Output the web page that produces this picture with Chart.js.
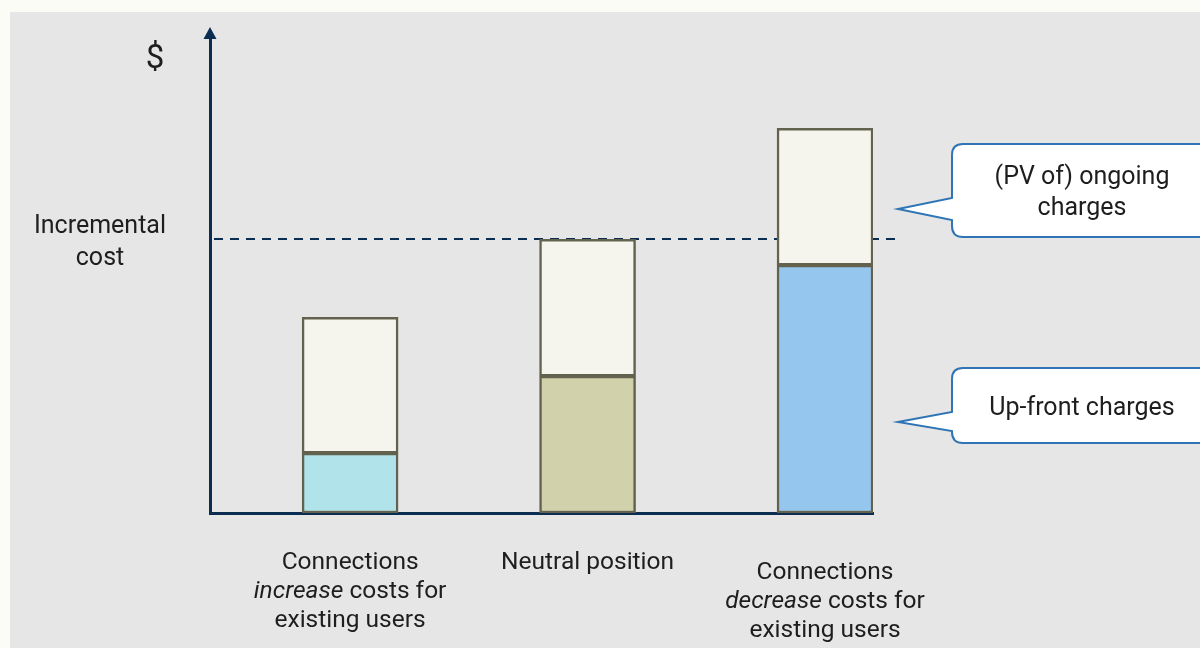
<!DOCTYPE html>
<html>
<head>
<meta charset="utf-8">
<script src="https://cdn.jsdelivr.net/npm/chart.js@4.4.1/dist/chart.umd.min.js"></script>
<style>
    body { margin: 0; background: #fbfcf6; }
    #wrap { width: 1200px; height: 648px; position: relative; }
</style>
</head>
<body>
<div id="wrap"><canvas id="costChart"></canvas></div>
<script>
// Datos del gráfico
const categories = [
    ['Connections', '_increase_ costs for', 'existing users'],
    ['Neutral position'],
    ['Connections', '_decrease_ costs for', 'existing users']
];
const upFrontCharges = [12.6, 28.8, 52.2];
const ongoingCharges = [28.6, 28.8, 28.8];
const incrementalCost = 57.7;
const yAxisLabel = '$';
const thresholdLabel = ['Incremental', 'cost'];
const calloutOngoing = ['(PV of) ongoing', 'charges'];
const calloutUpFront = ['Up-front charges'];

// Estilos
const FONT = 'Roboto, "Open Sans", sans-serif';
const TEXT = '#1e1e1e';
const NAVY = '#0c2d52';
const upFrontColors = ['#b0e3ea', '#d1d1ac', '#94c6ee'];
const labelShift = [0, 0, 10];

// Fondo del panel gris
const panelPlugin = {
    id: 'panel',
    beforeDraw(chart) {
        const ctx = chart.ctx;
        ctx.save();
        ctx.fillStyle = '#e6e6e6';
        ctx.fillRect(10, 12, chart.width - 10, chart.height - 12);
        ctx.restore();
    }
};

// Línea discontinua del coste incremental
const thresholdPlugin = {
    id: 'threshold',
    beforeDatasetsDraw(chart) {
        const { ctx, chartArea } = chart;
        const y = chart.scales.y.getPixelForValue(incrementalCost);
        ctx.save();
        ctx.strokeStyle = NAVY;
        ctx.lineWidth = 2;
        ctx.setLineDash([9, 7]);
        ctx.beginPath();
        ctx.moveTo(chartArea.left + 4, y);
        ctx.lineTo(chartArea.right + 22, y);
        ctx.stroke();
        ctx.restore();
    }
};

function drawMixedLine(ctx, text, cx, cy, size) {
    const parts = text.split('_').map((t, i) => ({ t, italic: i % 2 === 1 })).filter(p => p.t);
    let total = 0;
    parts.forEach(p => {
        ctx.font = `${p.italic ? 'italic ' : ''}${size}px ${FONT}`;
        p.w = ctx.measureText(p.t).width;
        total += p.w;
    });
    let x = cx - total / 2;
    ctx.textAlign = 'left';
    parts.forEach(p => {
        ctx.font = `${p.italic ? 'italic ' : ''}${size}px ${FONT}`;
        ctx.fillText(p.t, x, cy);
        x += p.w;
    });
}

function drawCallout(ctx, box) {
    const { left, top, right, bottom, tipX, tipY, baseTop, baseBottom } = box;
    const r = 11;
    ctx.beginPath();
    ctx.moveTo(left + r, top);
    ctx.lineTo(right, top);
    ctx.lineTo(right, bottom);
    ctx.lineTo(left + r, bottom);
    ctx.quadraticCurveTo(left, bottom, left, bottom - r);
    ctx.lineTo(left, baseBottom);
    ctx.lineTo(tipX, tipY);
    ctx.lineTo(left, baseTop);
    ctx.lineTo(left, top + r);
    ctx.quadraticCurveTo(left, top, left + r, top);
    ctx.closePath();
    ctx.fillStyle = '#ffffff';
    ctx.fill();
    ctx.strokeStyle = '#2f74b5';
    ctx.lineWidth = 2;
    ctx.stroke();
}

// Textos, flecha del eje y llamadas
const annotationsPlugin = {
    id: 'annotations',
    afterDraw(chart) {
        const { ctx, chartArea } = chart;
        const xs = chart.scales.x;
        const ys = chart.scales.y;
        ctx.save();

        // flecha del eje y
        ctx.fillStyle = NAVY;
        ctx.beginPath();
        ctx.moveTo(chartArea.left, chartArea.top - 11);
        ctx.lineTo(chartArea.left - 6.5, chartArea.top + 1);
        ctx.lineTo(chartArea.left + 6.5, chartArea.top + 1);
        ctx.closePath();
        ctx.fill();

        ctx.fillStyle = TEXT;
        ctx.textBaseline = 'middle';
        ctx.textAlign = 'center';
        ctx.font = `33px ${FONT}`;
        ctx.fillText(yAxisLabel, 155, 60);

        const ty = ys.getPixelForValue(incrementalCost);
        ctx.font = `25px ${FONT}`;
        ctx.fillText(thresholdLabel[0], 100, ty - 12);
        ctx.fillText(thresholdLabel[1], 100, ty + 20);

        // etiquetas de categoría
        categories.forEach((lines, i) => {
            const cx = xs.getPixelForValue(i + 1);
            lines.forEach((line, j) => {
                drawMixedLine(ctx, line, cx, chartArea.bottom + 50 + labelShift[i] + j * 29, 24.5);
            });
        });

        // llamadas
        drawCallout(ctx, { left: 952, top: 144, right: 1216, bottom: 237, tipX: 898, tipY: 209, baseTop: 198, baseBottom: 220 });
        drawCallout(ctx, { left: 952, top: 368, right: 1216, bottom: 443, tipX: 898, tipY: 422, baseTop: 412, baseBottom: 431 });
        ctx.fillStyle = TEXT;
        ctx.textAlign = 'center';
        ctx.font = `25px ${FONT}`;
        ctx.fillText(calloutOngoing[0], 1082, 178);
        ctx.fillText(calloutOngoing[1], 1082, 209);
        ctx.fillText(calloutUpFront[0], 1082, 409);
        ctx.restore();
    }
};

const ctx = document.getElementById('costChart').getContext('2d');
new Chart(ctx, {
    type: 'bar',
    data: {
        datasets: [
            {
                label: 'Up-front charges',
                data: upFrontCharges.map((v, i) => ({ x: i + 1, y: v })),
                backgroundColor: upFrontColors,
                borderColor: '#62624e',
                borderWidth: 2.5,
                borderSkipped: false,
                barThickness: 96
            },
            {
                label: '(PV of) ongoing charges',
                data: ongoingCharges.map((v, i) => ({ x: i + 1, y: v })),
                backgroundColor: '#f5f5ee',
                borderColor: '#62624e',
                borderWidth: 2.5,
                borderSkipped: false,
                barThickness: 96
            }
        ]
    },
    options: {
        responsive: true,
        maintainAspectRatio: false,
        animation: false,
        devicePixelRatio: 1,
        layout: { padding: { left: 210, top: 38, right: 327, bottom: 135 } },
        scales: {
            x: {
                type: 'linear',
                min: 0.41,
                max: 3.202,
                offset: false,
                stacked: true,
                grid: { display: false, drawTicks: false },
                ticks: { display: false },
                border: { display: true, color: NAVY, width: 3 }
            },
            y: {
                min: 0,
                max: 100,
                stacked: true,
                grid: { display: false, drawTicks: false },
                ticks: { display: false },
                border: { display: true, color: NAVY, width: 3 }
            }
        },
        plugins: {
            legend: { display: false },
            tooltip: { enabled: false }
        }
    },
    plugins: [panelPlugin, thresholdPlugin, annotationsPlugin]
});
</script>
</body>
</html>
